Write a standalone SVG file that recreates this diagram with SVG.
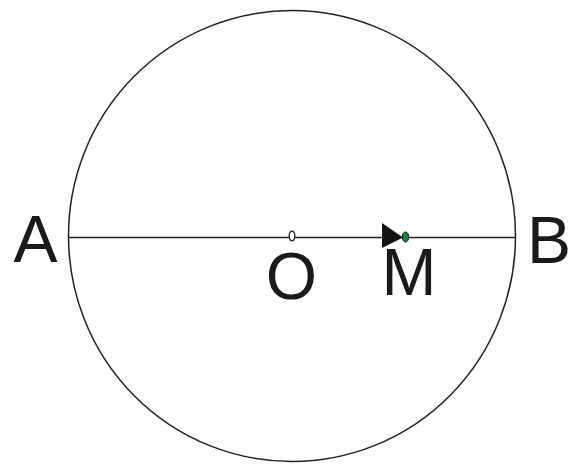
<svg xmlns="http://www.w3.org/2000/svg" width="572" height="464" viewBox="0 0 572 464">
<style>
.lbl{font-family:"Liberation Sans",Arial,sans-serif;font-size:66px;fill:#1a1a1a;text-anchor:middle}
.ln{stroke:#222;stroke-width:1.5;fill:none}
</style>
<rect width="572" height="464" fill="#fff"/>
<g id="circle"><ellipse class="ln" cx="292" cy="236" rx="223.5" ry="225.5"/></g>
<g id="connectors">
<line class="ln" x1="68" y1="237.5" x2="516" y2="237.5"/>
<polygon points="382,223 403,237.5 382,248" fill="#111"/>
</g>
<g id="O"><ellipse cx="292" cy="236" rx="2.8" ry="4.8" fill="#fff" stroke="#333" stroke-width="1.4"/><text class="lbl" x="291.5" y="299">O</text></g>
<g id="M"><ellipse cx="405.5" cy="237" rx="3.2" ry="5" fill="#0a8a3a" stroke="#111" stroke-width="1"/><text class="lbl" x="409" y="295">M</text></g>
<g id="A"><text class="lbl" x="35.5" y="262">A</text></g>
<g id="B"><text class="lbl" x="549" y="263">B</text></g>
</svg>
